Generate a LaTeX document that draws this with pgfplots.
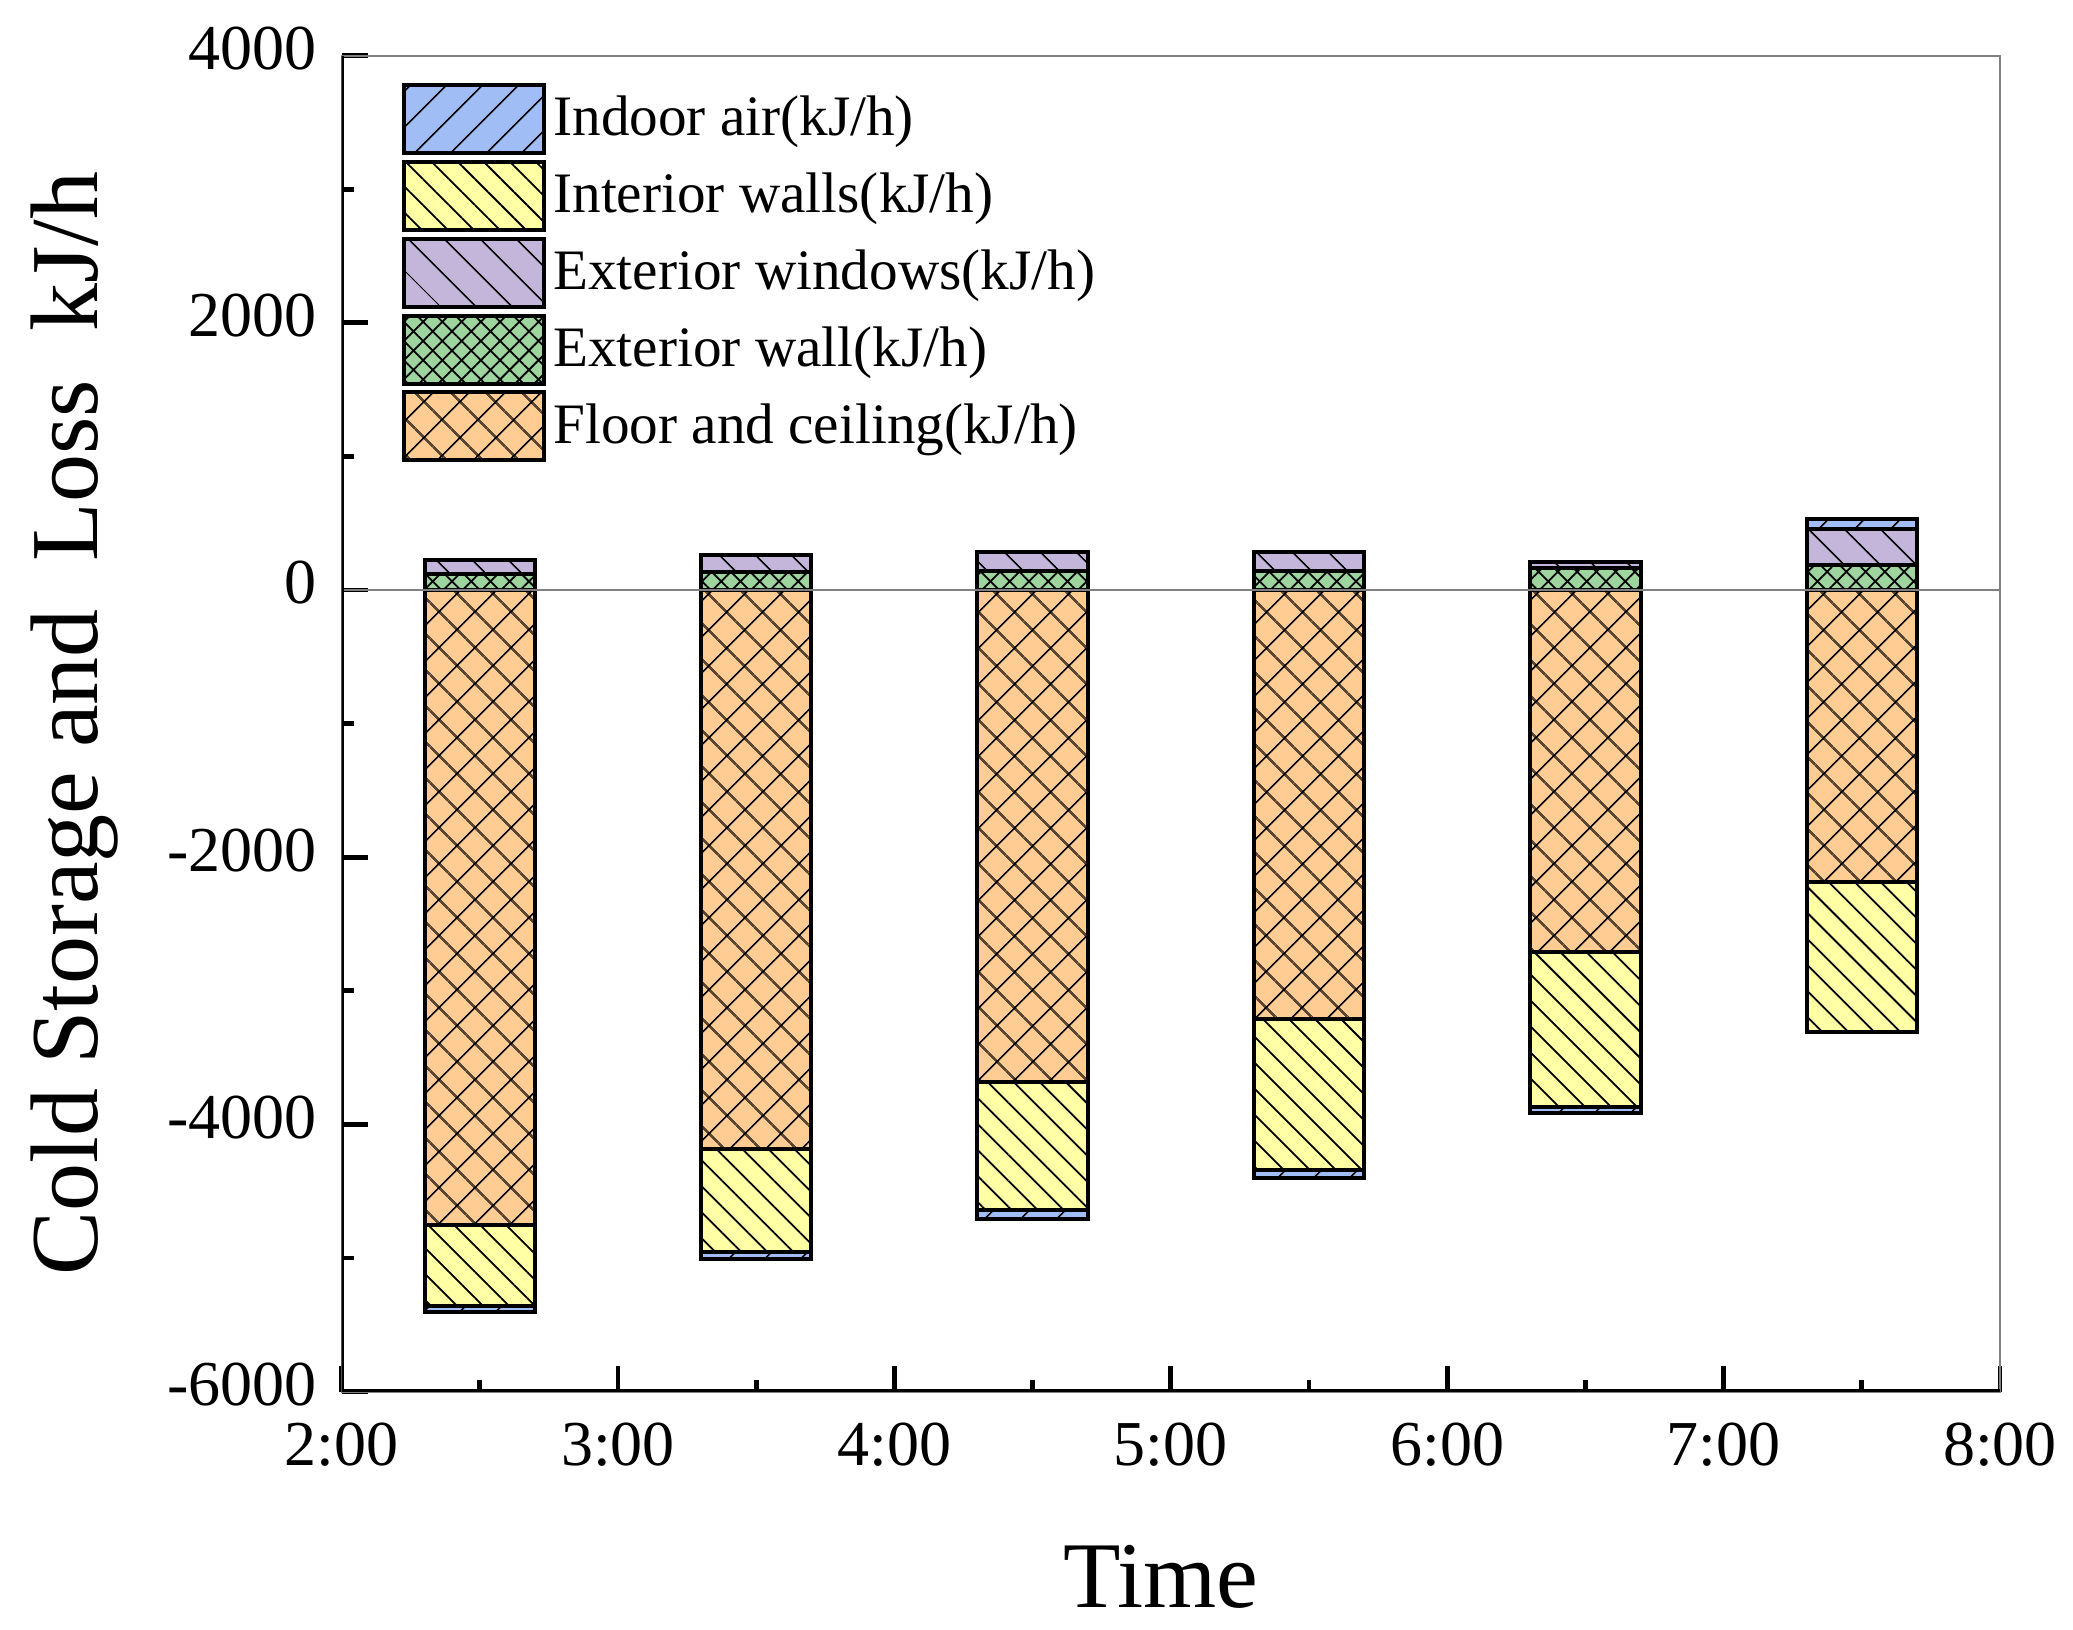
\documentclass[border=0pt]{standalone}
\usepackage{fontspec}
\setmainfont{Liberation Serif}
\usepackage{pgfplots}
\pgfplotsset{compat=1.18}
\usetikzlibrary{patterns.meta}
\definecolor{cair}{RGB}{160,190,245}
\definecolor{cint}{RGB}{255,255,165}
\definecolor{cwin}{RGB}{196,182,218}
\definecolor{cwall}{RGB}{158,212,158}
\definecolor{cfloor}{RGB}{255,204,148}
\pgfplotsset{
  mylegend/.style={legend image code/.code={\draw[##1] (0pt,-8.5pt) rectangle (35pt,8.5pt); \pgfpathmoveto{\pgfpoint{36.4pt}{0pt}}\pgfusepath{}}},
  mybar/.style={ybar, bar width=0.4, bar shift=0pt, draw=black, line width=1pt, mylegend},
}
\begin{document}
\begin{tikzpicture}
\begin{axis}[
  scale only axis, width=414.6pt, height=334pt,
  xmin=2, xmax=8, ymin=-6000, ymax=4000,
  ybar, bar width=0.4, bar shift=0pt,
  xtick={2,3,4,5,6,7,8}, xticklabels={2:00,3:00,4:00,5:00,6:00,7:00,8:00},
  ytick={-6000,-4000,-2000,0,2000,4000}, yticklabels={-6000,-4000,-2000,0,2000,4000},
  scaled y ticks=false,
  minor x tick num=1, minor y tick num=1,
  tick align=inside, tick pos=left,
  major tick length=6.5pt, minor tick length=3pt,
  tick style={black, line width=1.2pt},
  axis line style={gray, line width=0.5pt},
  ticklabel style={font=\fontsize{16}{19}\selectfont},
  xticklabel style={yshift=-4.2pt},
  yticklabel style={xshift=-2.7pt, yshift=1.75pt},
  xlabel={Time}, ylabel={Cold Storage and\ \ Loss\ \ kJ/h},
  every axis x label/.style={at={(axis description cs:0.5,-0.1617)}, anchor=base, xshift=-2.5pt, font=\fontsize{23.5}{28}\selectfont},
  every axis y label/.style={at={(axis description cs:-0.1471,0.5)}, rotate=90, anchor=base, font=\fontsize{24}{28}\selectfont},
  legend style={draw=none, fill=none, at={(axis description cs:0.0286,0.986)}, anchor=north west,
    font=\fontsize{14.3}{17}\selectfont, nodes={inner sep=1pt}, row sep=1.2pt},
  legend cell align=left,
]
\addplot[mybar, fill=cair, postaction={pattern={Lines[angle=45,distance=6.5pt,line width=0.45pt]}}]
  coordinates {(2.5,-5401) (3.5,-5009) (4.5,-4705) (5.5,-4398) (6.5,-3911) (7.5,534)};
\addlegendentry{Indoor air(kJ/h)}
\addplot[mybar, fill=cint, postaction={pattern={Lines[angle=-45,distance=4.6pt,line width=0.45pt]}}]
  coordinates {(2.5,-5356) (3.5,-4957) (4.5,-4643) (5.5,-4338) (6.5,-3871) (7.5,-3305)};
\addlegendentry{Interior walls(kJ/h)}
\addplot[mybar, fill=cwin, postaction={pattern={Lines[angle=-45,distance=6.5pt,line width=0.45pt]}}]
  coordinates {(2.5,226) (3.5,260) (4.5,283) (5.5,283) (6.5,213) (7.5,455)};
\addlegendentry{Exterior windows(kJ/h)}
\addplot[mybar, fill=cwall, postaction={pattern={Hatch[angle=45,distance=3.4pt,line width=0.45pt]}}]
  coordinates {(2.5,118) (3.5,135) (4.5,141) (5.5,141) (6.5,168) (7.5,186)};
\addlegendentry{Exterior wall(kJ/h)}
\addplot[mybar, fill=cfloor, postaction={pattern={Hatch[angle=45,distance=6.5pt,line width=0.45pt]}}]
  coordinates {(2.5,-4755) (3.5,-4186) (4.5,-3682) (5.5,-3213) (6.5,-2713) (7.5,-2188)};
\addlegendentry{Floor and ceiling(kJ/h)}
\draw[gray, line width=0.5pt] (axis cs:2,0) -- (axis cs:8,0);
\draw[black, line width=1.2pt] (rel axis cs:0,1) -- (rel axis cs:0,0) -- (rel axis cs:1,0);
\end{axis}
\pgfresetboundingbox
\path ([xshift=-85.4pt,yshift=-59.5pt]current axis.south west) rectangle ([xshift=18.25pt,yshift=13.9pt]current axis.north east);
\end{tikzpicture}
\end{document}
